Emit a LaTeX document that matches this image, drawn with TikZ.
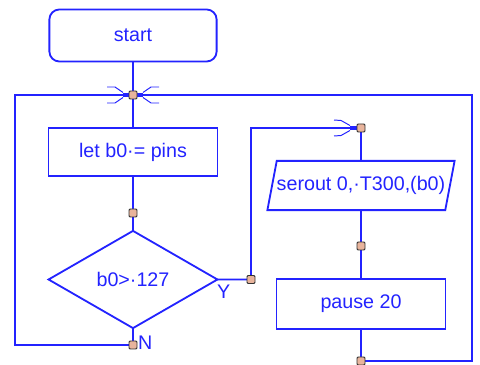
\documentclass[tikz,border=0pt]{standalone}
\usepackage{fontspec}
\setmainfont{Liberation Sans}
\usetikzlibrary{shapes.geometric}

\begin{document}
\begin{tikzpicture}[
  x=0.025cm, y=-0.025cm,
  font=\fontsize{14}{16}\selectfont,
  every node/.style={inner sep=0pt, outer sep=0pt, text=FlowBlue},
  flowline/.style={FlowBlue, line width=1.3pt},
  wing/.style={FlowBlue, line width=0.7pt},
  stub/.style={FlowBlue, line width=3.2pt},
  termbox/.style={draw=FlowBlue, line width=1.3pt, rectangle, rounded corners=0.25cm,
                  minimum width=4.18cm, minimum height=1.3cm},
  procbox/.style={draw=FlowBlue, line width=1.3pt, rectangle,
                  minimum width=4.22cm, minimum height=1.22cm},
  iobox/.style={draw=FlowBlue, line width=1.3pt, trapezium, trapezium stretches=true,
                trapezium left angle=63, trapezium right angle=117,
                minimum width=4.28cm, minimum height=1.23cm},
  testbox/.style={draw=FlowBlue, line width=1.3pt, diamond,
                  minimum width=4.22cm, minimum height=2.43cm},
  joint/.style={draw=black!80, fill=JointFill, line width=0.7pt, rectangle,
                rounded corners=0.8pt, minimum size=0.2cm},
]

% ── colors ──
\definecolor{FlowBlue}{HTML}{2323FF}
\definecolor{JointFill}{HTML}{E8B49C}

\useasboundingbox (0,0) rectangle (480,365);

% ── blocks ──
\node[termbox] (start) at (133,35.5) {start};
\node[procbox] (letpins) at (133,152) {let b0·= pins};
\node[testbox] (test) at (133,279.5) {b0>·127};
\node[iobox] (serout) at (361,185.5) {serout 0,·T300,(b0)};
\node[procbox, minimum height=1.25cm] (pause) at (361,304) {pause 20};

% ── junction points ──
\coordinate (merge) at (133,95);
\coordinate (jA) at (133,213);
\coordinate (jN) at (133,345);
\coordinate (jY) at (251,279.5);
\coordinate (jTop) at (361,128);
\coordinate (jB) at (361,246);
\coordinate (jEnd) at (361,361);
\coordinate (cornerL) at (15,95);
\coordinate (cornerR) at (472,95);

% ── connectors ──
\draw[flowline] (start) -- (merge) -- (letpins);
\draw[flowline] (letpins) -- (jA) -- (test);
\draw[flowline] (test) -- (jN) -| (cornerL) -- (cornerR) |- (jEnd);
\draw[flowline] (test.east) -- (jY) |- (jTop) -- (serout);
\draw[flowline] (serout) -- (jB) -- (pause) -- (jEnd);

% ── merge arrows ──
\draw[stub] (123,95) -- (130,95) (136,95) -- (143,95);
\draw[wing] (107,87) -- (115,87) -- (123,92.5);
\draw[wing] (107,103) -- (115,103) -- (123,97.5);
\draw[wing] (159,87) -- (151,87) -- (143,92.5);
\draw[wing] (159,103) -- (151,103) -- (143,97.5);
\draw[stub] (350,128) -- (358,128);
\draw[wing] (334,120) -- (341,120.5) -- (350,125.5);
\draw[wing] (334,136) -- (341,135.5) -- (350,130.5);

% ── joints ──
\node[joint] (mMerge) at (merge) {};
\node[joint] (mA) at (jA) {};
\node[joint] (mN) at (jN) {};
\node[joint] (mY) at (jY) {};
\node[joint] (mTop) at (jTop) {};
\node[joint] (mB) at (jB) {};
\node[joint] (mEnd) at (jEnd) {};

% ── branch labels ──
\node[anchor=north west] (ylab) at (217,285) {Y};
\node[anchor=west] (nlab) at (138,343) {N};

\end{tikzpicture}
\end{document}
